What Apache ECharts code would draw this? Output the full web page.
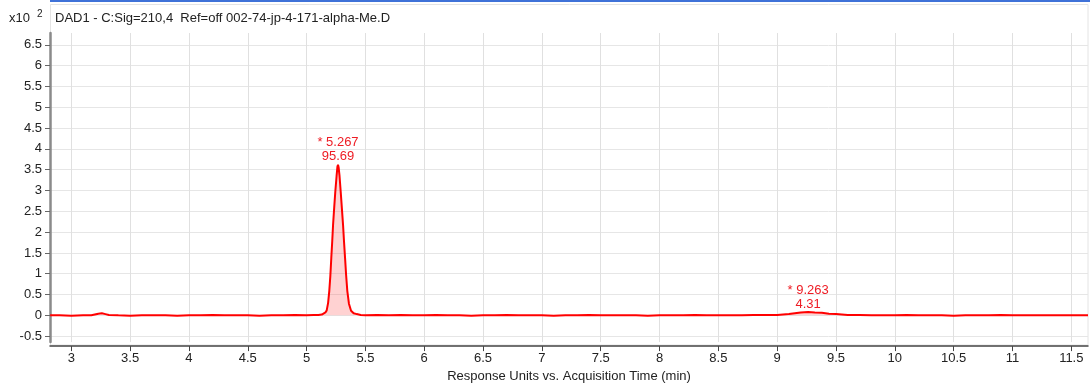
<!DOCTYPE html>
<html>
<head>
<meta charset="utf-8">
<style>
  html, body { margin: 0; padding: 0; background: #ffffff; }
  #chart { width: 1090px; height: 388px; }
</style>
<script src="https://cdn.jsdelivr.net/npm/echarts@6/dist/echarts.min.js"></script>
</head>
<body>
<div id="chart"></div>
<script>
// ---- data ----
const titleText = 'DAD1 - C:Sig=210,4  Ref=off 002-74-jp-4-171-alpha-Me.D';
const xAxisName = 'Response Units vs. Acquisition Time (min)';
const xTicks = [3, 3.5, 4, 4.5, 5, 5.5, 6, 6.5, 7, 7.5, 8, 8.5, 9, 9.5, 10, 10.5, 11, 11.5];
const yTicks = [-0.5, 0, 0.5, 1, 1.5, 2, 2.5, 3, 3.5, 4, 4.5, 5, 5.5, 6, 6.5];

// acquisition time (min)
const timeMin = [
  2.82, 2.9, 3.0, 3.1, 3.17, 3.2, 3.23, 3.26, 3.29, 3.32, 3.4, 3.5, 3.6, 3.7, 3.8, 3.9,
  4.0, 4.1, 4.2, 4.3, 4.4, 4.5, 4.6, 4.7, 4.8, 4.9, 5.0, 5.06, 5.1, 5.13,
  5.143, 5.16, 5.171, 5.183, 5.193, 5.202, 5.21, 5.218, 5.225, 5.235, 5.244, 5.255, 5.262,
  5.267, 5.272, 5.28, 5.29, 5.3, 5.31, 5.318, 5.327, 5.336, 5.346, 5.36, 5.378, 5.4, 5.426,
  5.46, 5.5, 5.6, 5.7, 5.8, 5.9, 6.0, 6.1, 6.2, 6.3, 6.4, 6.5, 6.6, 6.7, 6.8, 6.9, 7.0,
  7.1, 7.2, 7.3, 7.4, 7.5, 7.6, 7.7, 7.8, 7.9, 8.0, 8.1, 8.2, 8.3, 8.4, 8.5, 8.6, 8.7,
  8.8, 8.9, 9.0, 9.05, 9.1, 9.15, 9.2, 9.263, 9.32, 9.38, 9.44, 9.5, 9.55, 9.6, 9.7, 9.8,
  9.9, 10.0, 10.1, 10.2, 10.3, 10.4, 10.5, 10.6, 10.7, 10.8, 10.9, 11.0, 11.1, 11.2, 11.3,
  11.4, 11.5, 11.642
];
// response (x10^2)
const response = [
  0.00, 0.00, -0.01, 0.00, 0.00, 0.02, 0.04, 0.05, 0.03, 0.01, 0.00, -0.01, 0.00, 0.00, 0.00, -0.01,
  0.00, 0.00, 0.01, 0.00, 0.00, 0.00, -0.01, 0.00, 0.00, 0.01, 0.00, 0.01, 0.01, 0.02,
  0.03, 0.07, 0.12, 0.30, 0.59, 0.95, 1.38, 1.78, 2.17, 2.60, 2.97, 3.35, 3.57,
  3.62, 3.56, 3.35, 2.97, 2.57, 2.17, 1.78, 1.38, 0.97, 0.59, 0.28, 0.11, 0.05, 0.03,
  0.01, 0.00, 0.01, 0.00, 0.01, 0.00, 0.00, 0.01, 0.00, 0.00, -0.01, 0.00, 0.00, 0.01, 0.00, 0.00, 0.00,
  -0.01, 0.00, 0.00, 0.01, 0.00, 0.00, 0.00, 0.00, -0.01, 0.00, 0.00, 0.00, 0.01, 0.00, 0.00, 0.00, 0.00,
  0.01, 0.01, 0.01, 0.02, 0.03, 0.05, 0.07, 0.08, 0.07, 0.06, 0.04, 0.03, 0.02, 0.01, 0.01, 0.00,
  0.00, 0.00, 0.01, 0.00, 0.00, 0.00, -0.01, 0.00, 0.00, 0.00, 0.01, 0.00, 0.00, 0.00, 0.00,
  0.00, 0.00, 0.00
];

// integrated peaks
const peakTimes = [5.267, 9.263];
const peakAreas = [95.69, 4.31];
const peakStart = [5.143, 9.1];
const peakEnd = [5.426, 9.5];

// ---- build ----
const trace = timeMin.map((t, i) => [t, response[i]]);
const peakFillSeries = peakTimes.map((pt, k) => ({
  type: 'line',
  data: trace.filter(p => p[0] >= peakStart[k] && p[0] <= peakEnd[k]),
  showSymbol: false,
  silent: true,
  lineStyle: { width: 0 },
  areaStyle: { color: 'rgba(255, 70, 70, 0.35)', origin: 0 },
  z: 1
}));
const peakMarks = peakTimes.map((pt, k) => {
  const idx = timeMin.indexOf(pt);
  return {
    coord: [pt, response[idx]],
    label: { formatter: '* ' + pt.toFixed(3) + '\n' + peakAreas[k].toFixed(2) }
  };
});

const FONT = "'Liberation Sans', Arial, sans-serif";
const chart = echarts.init(document.getElementById('chart'), null, { renderer: 'canvas' });
chart.setOption({
  animation: false,
  backgroundColor: '#ffffff',
  grid: { left: 50, right: 2, top: 33, bottom: 43, containLabel: false },
  xAxis: {
    type: 'value',
    min: 2.819,
    max: 11.642,
    offset: 4,
    name: xAxisName,
    nameLocation: 'middle',
    nameGap: 23,
    nameTextStyle: { color: '#222', fontSize: 13, fontFamily: FONT },
    axisLine: { show: true, onZero: false, lineStyle: { color: '#444', width: 1.5 } },
    axisTick: { show: true, length: 5, customValues: xTicks, lineStyle: { color: '#444', width: 1 } },
    axisLabel: { customValues: xTicks, margin: 6, color: '#222', fontSize: 13, fontFamily: FONT,
      formatter: v => String(v) },
    splitLine: { show: true, lineStyle: { color: '#e0e0e0', width: 1 } }
  },
  yAxis: {
    type: 'value',
    min: -0.643,
    max: 6.786,
    axisLine: { show: true, onZero: false, lineStyle: { color: '#8a8a8a', width: 2.5 } },
    axisTick: { show: true, length: 5, customValues: yTicks, lineStyle: { color: '#666', width: 1 } },
    axisLabel: { customValues: yTicks, margin: 8, color: '#222', fontSize: 13, fontFamily: FONT,
      formatter: v => String(v) },
    splitLine: { show: true, lineStyle: { color: '#e6e6e6', width: 1 } }
  },
  series: [
    ...peakFillSeries,
    {
      type: 'line',
      data: trace,
      showSymbol: false,
      lineStyle: { color: '#ff0000', width: 2 },
      z: 3,
      markPoint: {
        symbol: 'circle',
        symbolSize: 0,
        silent: true,
        label: {
          show: true, position: 'top', distance: 1,
          color: '#ee1c24', fontSize: 13, lineHeight: 14, fontFamily: FONT, align: 'center'
        },
        data: peakMarks
      }
    }
  ],
  graphic: [
    { type: 'rect', left: 50, top: 0, shape: { width: 1040, height: 2 }, style: { fill: '#3f72d8' }, silent: true },
    { type: 'rect', shape: { x: 50.5, y: 4.5, width: 1037.5, height: 340.5 }, style: { fill: 'none', stroke: '#e4e4e4', lineWidth: 1 }, silent: true, z: -1 },
    { type: 'text', left: 9, top: 12, style: { text: 'x10', fill: '#222', font: '13px ' + FONT } },
    { type: 'text', left: 37, top: 9, style: { text: '2', fill: '#222', font: '10px ' + FONT } },
    { type: 'text', left: 55, top: 12, style: { text: titleText, fill: '#222', font: '13px ' + FONT } }
  ]
});
</script>
</body>
</html>
